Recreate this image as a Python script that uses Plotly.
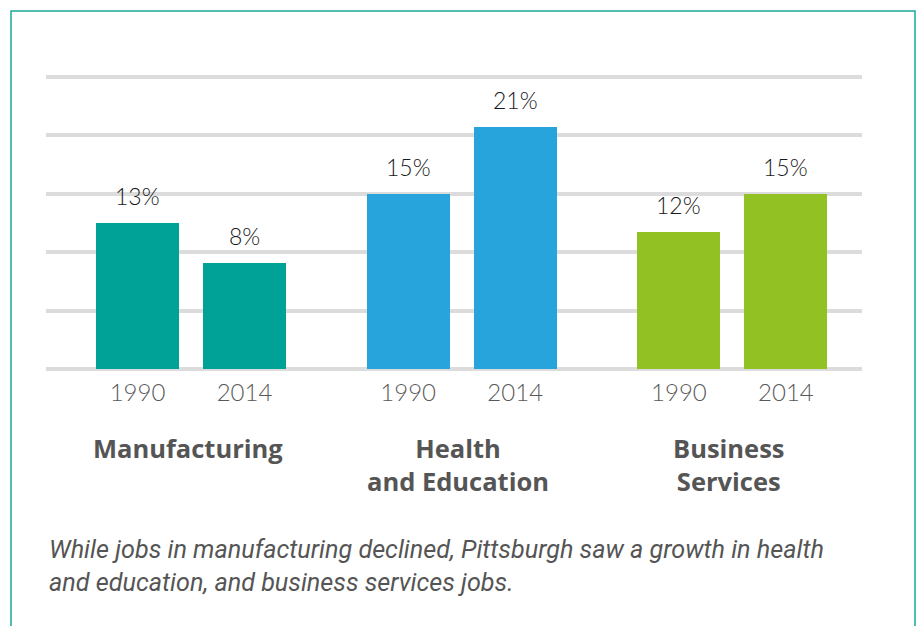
import plotly.graph_objects as go

# ---- data ----
categories = ["Manufacturing", "Health<br>and Education", "Business<br>Services"]
years = ["1990", "2014"]
values_1990 = [12.5, 15.0, 11.7]
values_2014 = [9.1, 20.7, 15.0]
labels_1990 = ["13%", "15%", "12%"]
labels_2014 = ["8%", "21%", "15%"]
bar_colors = ["#00a298", "#28a4dd", "#92c123"]
caption = ("While jobs in manufacturing declined, Pittsburgh saw a growth in health<br>"
           "and education, and business services jobs.")

# ---- layout constants ----
W, H = 920, 626
GROUP_GAP = 2.53
BAR_W = 0.776
X_RANGE = [-0.855, 6.771]
Y_RANGE = [-0.5, 25.5]
M_L, M_R, M_T, M_B = 46, 58, 71, 251

fig = go.Figure()
tickvals, ticktext = [], []
annotations = []
for g, cat in enumerate(categories):
    xs = [g * GROUP_GAP + b for b in range(len(years))]
    vals = [values_1990[g], values_2014[g]]
    labs = [labels_1990[g], labels_2014[g]]
    fig.add_trace(go.Bar(
        x=xs, y=vals, width=BAR_W,
        marker=dict(color=bar_colors[g], line=dict(width=0)),
        showlegend=False, hoverinfo="skip",
    ))
    tickvals += xs
    ticktext += years
    for xv, yv, lab in zip(xs, vals, labs):
        annotations.append(dict(
            x=xv, y=yv, xref="x", yref="y", text=lab, showarrow=False,
            yanchor="bottom", yshift=11,
            font=dict(family="Lato", size=23, color="#1a1a1a", weight=300),
        ))
    annotations.append(dict(
        x=sum(xs) / len(xs) - 0.03, y=0, xref="x", yref="y", text="<b>%s</b>" % cat,
        showarrow=False, yanchor="top", yshift=-60, align="center",
        font=dict(family="Open Sans", size=25.5, color="#555555"),
    ))

annotations.append(dict(
    x=0, y=0, xref="paper", yref="paper", text="<i>%s</i>" % caption,
    showarrow=False, xanchor="left", yanchor="top", align="left",
    xshift=1, yshift=-158,
    font=dict(family="Roboto", size=25.2, color="#555555"),
))

plot_w = W - M_L - M_R
plot_h = H - M_T - M_B
fig.add_shape(
    type="rect", xref="paper", yref="paper",
    x0=(11 - M_L) / plot_w, x1=(915 - M_L) / plot_w,
    y0=(H - M_B - 660) / plot_h, y1=(H - M_B - 11) / plot_h,
    line=dict(color="#1aa89b", width=1.5), fillcolor="rgba(0,0,0,0)", layer="below",
)

fig.update_layout(
    width=W, height=H,
    margin=dict(l=M_L, r=M_R, t=M_T, b=M_B, pad=0),
    paper_bgcolor="white", plot_bgcolor="white",
    bargap=0,
    annotations=annotations,
    xaxis=dict(range=X_RANGE, tickvals=tickvals, ticktext=ticktext,
               showgrid=False, zeroline=False, showline=False, ticks="",
               ticklabelstandoff=1,
               tickfont=dict(family="Lato", size=24, color="#595959", weight=300),
               fixedrange=True),
    yaxis=dict(range=Y_RANGE, tickvals=[0, 5, 10, 15, 20, 25], showticklabels=False,
               showgrid=True, gridcolor="#dcdcdc", gridwidth=4,
               zeroline=False, showline=False, ticks="", fixedrange=True),
)

fig.write_html("out.html", config={"displayModeBar": False},
               post_script="document.body.style.margin='0';document.body.style.overflow='hidden';")
